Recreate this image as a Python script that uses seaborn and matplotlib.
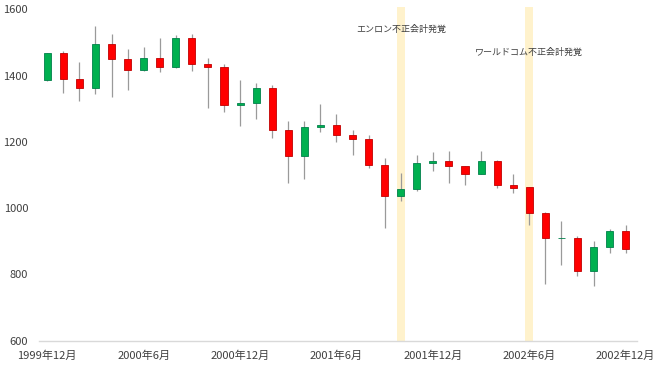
import numpy as np
import pandas as pd
import matplotlib
matplotlib.use("Agg")
import matplotlib.pyplot as plt
import seaborn as sns

# # # # # data # # # # #

# monthly candles, 1999/12 .. 2002/12
MONTHS = [f"{p.year}年{p.month}月" for p in pd.period_range("1999-12", "2002-12", freq="M")]

OPEN = [1386, 1467, 1391, 1363, 1496, 1449, 1417, 1452, 1426, 1514, 1434, 1427,
	1312, 1317, 1363, 1236, 1156, 1246, 1252, 1222, 1208, 1130, 1037, 1058,
	1136, 1143, 1126, 1104, 1143, 1071, 1063, 985, 909, 910, 810, 881, 931]
HIGH = [1469, 1474, 1442, 1551, 1525, 1479, 1486, 1514, 1523, 1527, 1452, 1434,
	1386, 1379, 1371, 1264, 1264, 1313, 1284, 1236, 1222, 1151, 1106, 1159,
	1168, 1173, 1127, 1171, 1145, 1103, 1064, 988, 960, 916, 901, 936, 949]
LOW = [1384, 1346, 1322, 1343, 1335, 1357, 1415, 1411, 1423, 1415, 1302, 1290,
	1249, 1270, 1211, 1076, 1088, 1229, 1199, 1161, 1121, 941, 1022, 1050,
	1111, 1077, 1070, 1103, 1059, 1045, 949, 771, 829, 795, 764, 865, 863]
CLOSE = [1467, 1390, 1363, 1496, 1449, 1417, 1452, 1426, 1514, 1434, 1427, 1311,
	1317, 1363, 1236, 1156, 1246, 1252, 1221, 1208, 1130, 1037, 1058, 1136,
	1143, 1127, 1104, 1143, 1071, 1062, 986, 909, 911, 810, 881, 931, 875]

EVENT_MONTHS = ["2001年10月", "2002年6月"]
EVENT_LABELS = ["エンロン不正会計発覚", "ワールドコム不正会計発覚"]
EVENT_TEXT_Y = [1540, 1470]

Y_TICKS = [600, 800, 1000, 1200, 1400, 1600]

# # # # # style # # # # #

sns.set_style("white")
plt.rcParams['font.family'] = ['Noto Sans CJK JP', 'DejaVu Sans']

UP_COL = "#00B050"
UP_EDGE = "#00804A"
DOWN_COL = "#FF0000"
DOWN_EDGE = "#C00000"
WICK_COL = "#9A9A9A"
BAND_COL = "#FFF2CC"
TEXT_COL = "#404040"

# # # # # plot # # # # #

df = pd.DataFrame({"month": MONTHS, "open": OPEN, "high": HIGH, "low": LOW, "close": CLOSE})
df["x"] = np.arange(len(df))
df["up"] = df["close"] >= df["open"]
df["body_low"] = df[["open", "close"]].min(axis=1)
df["body_h"] = (df["close"] - df["open"]).abs()

fig = plt.figure(figsize=(6.6, 3.71), dpi=100)
ax = fig.add_axes([0.0595, 0.0822, 0.9055, 0.8998])

# event bands and labels
for m, lab, ty in zip(EVENT_MONTHS, EVENT_LABELS, EVENT_TEXT_Y):
	xi = MONTHS.index(m)
	ax.axvspan(xi - 0.26, xi + 0.26, color=BAND_COL, zorder=0, lw=0)
	ax.text(xi, ty, lab, ha="center", va="center", fontsize=6.5, color=TEXT_COL, zorder=5)

# wicks
ax.vlines(df["x"], df["low"], df["high"], color=WICK_COL, lw=0.9, zorder=2)

# bodies
cols = np.where(df["up"], UP_COL, DOWN_COL)
edges = np.where(df["up"], UP_EDGE, DOWN_EDGE)
ax.bar(df["x"], df["body_h"], bottom=df["body_low"], width=0.44,
	color=cols, edgecolor=edges, linewidth=0.6, zorder=3)

# axes
ax.set_xlim(-0.5, 36.7)
ax.set_ylim(600, 1608)
ax.set_yticks(Y_TICKS)
ax.set_yticklabels([str(v) for v in Y_TICKS])
tick_i = list(range(0, len(MONTHS), 6))
ax.set_xticks(tick_i)
ax.set_xticklabels([MONTHS[i] for i in tick_i])
ax.tick_params(axis="both", length=0, labelsize=8, colors=TEXT_COL)
ax.tick_params(axis="y", pad=8)
ax.tick_params(axis="x", pad=7)

sns.despine(ax=ax, left=True, top=True, right=True)
ax.spines["bottom"].set_color("#D9D9D9")
ax.spines["bottom"].set_linewidth(1)
ax.grid(False)

fig.savefig("out.png", dpi=100)
